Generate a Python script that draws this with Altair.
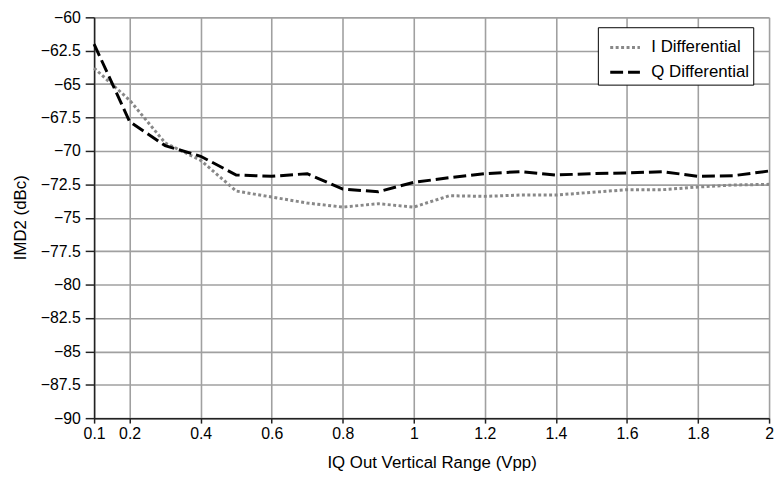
import altair as alt
import pandas as pd

x_vpp = [0.1, 0.2, 0.3, 0.4, 0.5, 0.6, 0.7, 0.8, 0.9, 1.0,
         1.1, 1.2, 1.3, 1.4, 1.5, 1.6, 1.7, 1.8, 1.9, 2.0]
i_diff = [-63.8, -66.2, -69.4, -70.7, -73.0, -73.45, -73.9, -74.2, -73.95, -74.2,
          -73.35, -73.4, -73.3, -73.3, -73.1, -72.9, -72.9, -72.7, -72.55, -72.5]
q_diff = [-62.0, -67.8, -69.6, -70.4, -71.8, -71.9, -71.7, -72.85, -73.05, -72.35,
          -72.0, -71.7, -71.55, -71.8, -71.7, -71.65, -71.55, -71.9, -71.85, -71.5]
series = ["I Differential", "Q Differential"]
x_ticks = [0.1, 0.2, 0.4, 0.6, 0.8, 1.0, 1.2, 1.4, 1.6, 1.8, 2.0]
y_ticks = [-90, -87.5, -85, -82.5, -80, -77.5, -75, -72.5, -70, -67.5, -65, -62.5, -60]

rows = []
for xv, iv, qv in zip(x_vpp, i_diff, q_diff):
    rows.append({"x": xv, "y": iv, "s": series[0]})
    rows.append({"x": xv, "y": qv, "s": series[1]})
df = pd.DataFrame(rows)

FONT = "'Liberation Sans', Arial, sans-serif"

legend = alt.Legend(
    title=None, orient="none", legendX=509, legendY=10,
    fillColor="white", strokeColor="black", padding=4,
    symbolType="stroke", symbolSize=900, symbolStrokeWidth=3, symbolOffset=7,
    labelFontSize=17, labelFont=FONT, labelColor="black",
    rowPadding=-5, labelOffset=10,
)

chart = alt.Chart(df).mark_line(strokeWidth=3, strokeCap="butt").encode(
    x=alt.X("x:Q", title="IQ Out Vertical Range (Vpp)",
            scale=alt.Scale(domain=[0.1, 2.0], nice=False, zero=False),
            axis=alt.Axis(values=x_ticks, format="~g", titleY=37,
                          labelFlush=False, labelOverlap=False)),
    y=alt.Y("y:Q", title="IMD2 (dBc)",
            scale=alt.Scale(domain=[-90, -60], nice=False, zero=False),
            axis=alt.Axis(values=y_ticks, format=".1~f", titleX=-65, titleY=202,
                          tickSize=9, labelPadding=5, labelFlush=False,
                          labelOverlap=False)),
    color=alt.Color("s:N", scale=alt.Scale(domain=series, range=["#888888", "#000000"]),
                    legend=legend),
    strokeDash=alt.StrokeDash("s:N", scale=alt.Scale(domain=series, range=[[3, 2.5], [13, 5]]),
                              legend=legend),
).properties(
    width=682, height=405,
    autosize=alt.AutoSizeParams(type="none"),
    padding={"left": 87, "top": 7, "right": 7, "bottom": 56},
).configure_view(stroke=None).configure_axis(
    labelFont=FONT, titleFont=FONT, labelFontSize=16, titleFontSize=17,
    labelColor="black", titleColor="black", titleFontWeight="normal",
    gridColor="#a0a0a0", gridWidth=1.6, gridOpacity=1,
    domainColor="#222222", domainWidth=1.5,
    tickColor="#222222", tickWidth=1.5, tickSize=5, labelPadding=3,
)

chart.save("out.html", embed_options={"renderer": "svg", "actions": False})
